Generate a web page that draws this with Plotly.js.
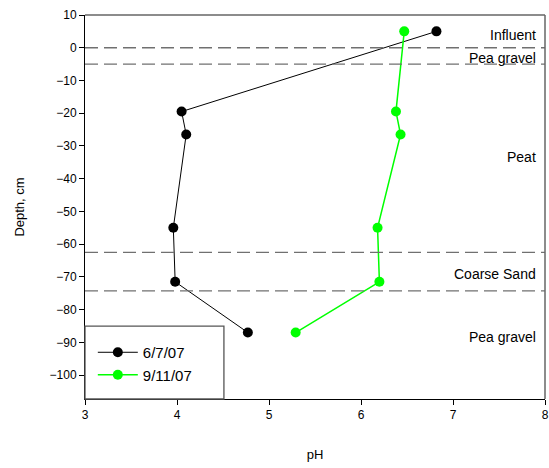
<!DOCTYPE html>
<html><head><meta charset="utf-8">
<script src="https://cdn.plot.ly/plotly-3.0.1.min.js"></script>
<style>body{margin:0;padding:0;background:#fff}#chart{width:549px;height:468px}</style>
</head><body><div id="chart"></div>
<script>
const depth = [5, -19.5, -26.5, -55, -71.5, -87];
const ph_0607 = [6.82, 4.05, 4.10, 3.96, 3.98, 4.77];
const ph_0911 = [6.47, 6.38, 6.43, 6.18, 6.20, 5.29];
const seriesNames = ['6/7/07', '9/11/07'];
const layerBounds = [0, -5, -62.5, -74.3];
const layerLabels = ['Influent', 'Pea gravel', 'Peat', 'Coarse Sand', 'Pea gravel'];
const layerLabelDepths = [4, -3, -33.3, -69, -88.5];

const traces = [
  {x: ph_0607, y: depth, name: seriesNames[0], mode: 'lines+markers', type: 'scatter',
   line: {color: '#000000', width: 1}, marker: {color: '#000000', size: 10}},
  {x: ph_0911, y: depth, name: seriesNames[1], mode: 'lines+markers', type: 'scatter',
   line: {color: '#00ff00', width: 1.5}, marker: {color: '#00ff00', size: 10}}
];

const shapes = layerBounds.map(b => ({type: 'line', xref: 'paper', x0: 0, x1: 1, yref: 'y', y0: b, y1: b,
  line: {color: '#707070', width: 1.3, dash: '13px,6px'}}));

const annotations = layerLabels.map((t, i) => ({text: t, xref: 'paper', x: 0.985, xanchor: 'right',
  yref: 'y', y: layerLabelDepths[i], yanchor: 'middle', showarrow: false,
  font: {family: 'Liberation Sans, Arial, sans-serif', size: 14, color: '#000'}}));

const layout = {
  width: 549, height: 468,
  margin: {l: 85, r: 4, t: 15, b: 69},
  paper_bgcolor: '#fff', plot_bgcolor: '#fff',
  font: {family: 'Liberation Sans, Arial, sans-serif', size: 12, color: '#000'},
  xaxis: {range: [3, 8], dtick: 1, tick0: 3, ticks: 'outside', ticklen: 5, tickcolor: '#000',
    showgrid: false, zeroline: false, showline: true, linecolor: '#000', linewidth: 1,
    mirror: false, title: {text: 'pH', standoff: 28, font: {size: 13}}},
  yaxis: {range: [-107.3, 10], dtick: 10, tick0: 0, ticks: 'outside', ticklen: 5, tickcolor: '#000',
    showgrid: false, zeroline: false, showline: true, linecolor: '#000', linewidth: 1,
    mirror: false, title: {text: 'Depth, cm', standoff: 22, font: {size: 13}}},
  showlegend: true,
  legend: {x: 0.017, y: 0.164, xanchor: 'left', yanchor: 'top', bgcolor: 'rgba(0,0,0,0)',
    borderwidth: 0, font: {size: 15}, tracegroupgap: 0, itemwidth: 40},
  shapes: [
    {type: 'rect', xref: 'paper', yref: 'paper', x0: 0, x1: 0.302, y0: 0, y1: 0.19,
     fillcolor: '#fff', line: {color: '#555', width: 1.3}, layer: 'above'}
  ].concat(shapes).concat([
    {type: 'line', xref: 'paper', yref: 'paper', x0: 0, x1: 1, y0: 1, y1: 1, line: {color: '#666', width: 1.5}},
    {type: 'line', xref: 'paper', yref: 'paper', x0: 1, x1: 1, y0: 0, y1: 1, line: {color: '#666', width: 1.5}}
  ]),
  annotations: annotations
};
Plotly.newPlot('chart', traces, layout, {displayModeBar: false, staticPlot: true});
</script></body></html>
